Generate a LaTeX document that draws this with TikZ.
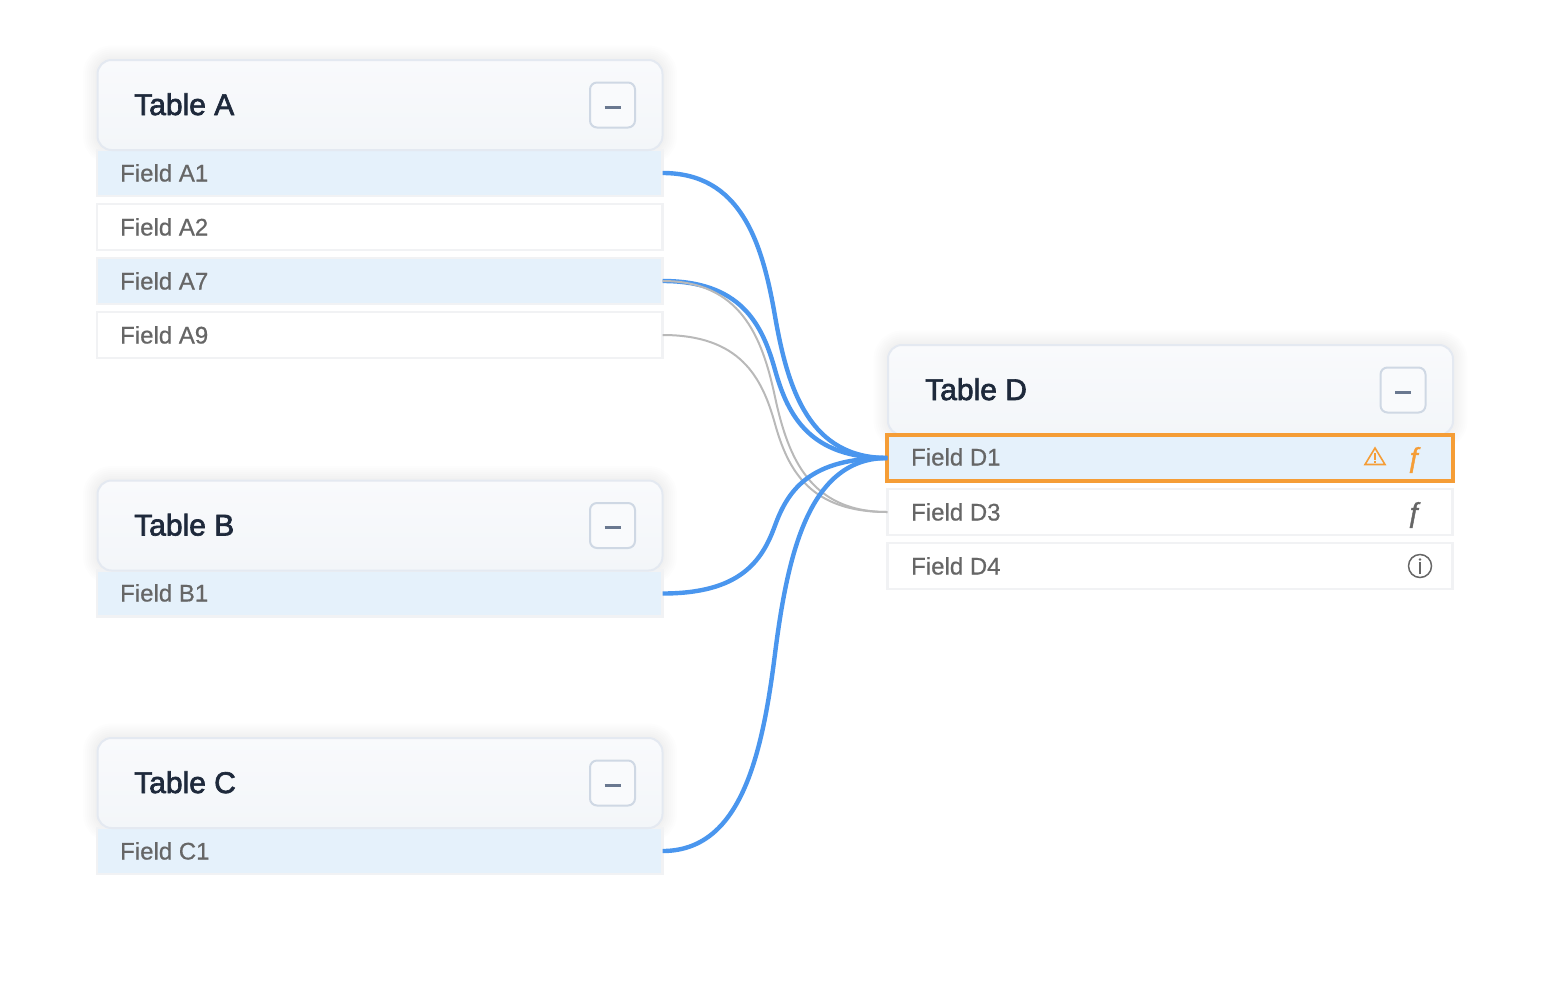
\documentclass[tikz,border=0pt]{standalone}
\usepackage{fontspec}
\setmainfont{Liberation Sans}[FakeBold=0.6]
\newfontfamily\titlefont[FakeBold=2.2]{Liberation Sans}
\newfontfamily\fxfont[FakeBold=1.4]{Liberation Sans}
\usetikzlibrary{calc}
\definecolor{hdrborder}{HTML}{E4E9F1}
\definecolor{hdrtop}{HTML}{F9FAFC}
\definecolor{hdrbot}{HTML}{F3F6F9}
\definecolor{btnborder}{HTML}{CFD8E4}
\definecolor{btnfill}{HTML}{F9FAFC}
\definecolor{minuscol}{HTML}{6A7890}
\definecolor{titlecol}{HTML}{1E293B}
\definecolor{fieldcol}{HTML}{666666}
\definecolor{rowborder}{HTML}{F1F2F4}
\definecolor{rowblue}{HTML}{E5F1FB}
\definecolor{linkblue}{HTML}{4A96EE}
\definecolor{linkgray}{HTML}{B9B9B9}
\definecolor{warnorange}{HTML}{F59D36}
\tikzset{
  rowbase/.style={rectangle,minimum width=565.5pt,minimum height=46pt,inner sep=0pt,outer sep=0pt,line width=2.6pt,draw=rowborder},
  rowplain/.style={rowbase,fill=white},
  rowactive/.style={rowbase,fill=rowblue},
  rowwarn/.style={rowbase,fill=rowblue,draw=warnorange,line width=4pt},
  hdr/.style={rectangle,rounded corners=14pt,minimum width=565pt,minimum height=90pt,inner sep=0pt,outer sep=0pt,line width=2pt,draw=hdrborder,top color=hdrtop,bottom color=hdrbot},
  shadowlayer/.style={rectangle,rounded corners=14pt,minimum width=565pt,minimum height=90pt,inner sep=0pt,draw=black,draw opacity=.008},
  btn/.style={rectangle,rounded corners=7pt,minimum width=45pt,minimum height=45pt,inner sep=0pt,outer sep=0pt,line width=2pt,draw=btnborder,fill=btnfill},
  minusbar/.style={draw=minuscol,line width=3pt},
  titletext/.style={anchor=base west,inner sep=0pt,text=titlecol,font=\titlefont\fontsize{30}{32}\selectfont},
  fieldtext/.style={anchor=base west,inner sep=0pt,text=fieldcol,font=\fontsize{24}{28}\selectfont},
  fxtext/.style={anchor=base,inner sep=0pt,font=\fxfont\fontsize{28}{30}\selectfont},
  bluelink/.style={draw=linkblue,line width=4.4pt},
  graylink/.style={draw=linkgray,line width=2pt},
}
\newcommand{\tableshadow}[2]{%
  \foreach \w in {5,9,13,17,21,25,29}{\node[shadowlayer,line width=\w pt] at (#1,#2) {};}
}
\newcommand{\tablehead}[5]{% name, centre x, centre y, title, title x
  \node[hdr] (#1) at (#2,#3) {};
  \node[titletext] (#1t) at (#5,#3+10) {#4};
  \node[btn] (#1b) at (#2+232.5,#3) {};
  \draw[minusbar] ($(#1b.center)+(-8pt,-2pt)$) -- ($(#1b.center)+(8pt,-2pt)$);
}
\newcommand{\linkrows}[3]{%
  \draw[#1] let \p1=(#2.east),\p2=(#3.west),\n1={\x2-\x1},\n2={\y2-\y1} in
    (\p1) .. controls ({\x1+.344*\n1},{\y1}) and ({\x1+.442*\n1},{\y1+.236*\n2}) ..
    ({\x1+.5*\n1},{\y1+.5*\n2}) .. controls ({\x1+.558*\n1},{\y1+.764*\n2}) and ({\x1+.656*\n1},{\y2}) .. (\p2);
}
\begin{document}
\begin{tikzpicture}[x=1pt,y=-1pt]
\useasboundingbox (0,0) rectangle (1562,1002);
% soft shadows
\tableshadow{380}{105}
\tableshadow{380}{525.5}
\tableshadow{380}{783}
\tableshadow{1170.5}{390}
% rows
\node[rowactive] (fa1) at (379.8,173) {};
\node[rowplain]  (fa2) at (379.8,227) {};
\node[rowactive] (fa7) at (379.8,281) {};
\node[rowplain]  (fa9) at (379.8,335) {};
\node[rowactive] (fb1) at (379.8,593.5) {};
\node[rowactive] (fc1) at (379.8,851) {};
\node[rowplain]  (fd3) at (1170,512) {};
\node[rowplain]  (fd4) at (1170,566) {};
% headers
\tablehead{ta}{380}{105}{Table A}{134}
\tablehead{tb}{380}{525.5}{Table B}{134}
\tablehead{tc}{380}{783}{Table C}{134}
\tablehead{td}{1170.5}{390}{Table D}{925}
\node[rowwarn] (fd1) at (1170,458) {};
% field labels
\node[fieldtext] (la1) at (120,181.5) {Field A1};
\node[fieldtext] (la2) at (120,235.5) {Field A2};
\node[fieldtext] (la7) at (120,289.5) {Field A7};
\node[fieldtext] (la9) at (120,343.5) {Field A9};
\node[fieldtext] (lb1) at (120,601.5) {Field B1};
\node[fieldtext] (lc1) at (120,859.5) {Field C1};
\node[fieldtext] (ld1) at (911,465.5) {Field D1};
\node[fieldtext] (ld3) at (911,520.5) {Field D3};
\node[fieldtext] (ld4) at (911,574.5) {Field D4};
% icons
\node[fxtext,text=warnorange] (fx1) at (1415,467) {ƒ};
\node[fxtext,text=fieldcol] (fx3) at (1415,522) {ƒ};
\draw[warnorange,line width=1.6pt,line join=miter] (1375,448) -- (1385,464.5) -- (1365,464.5) -- cycle;
\draw[warnorange,line width=1.8pt] (1375,453) -- (1375,459.5) (1375,460.8) -- (1375,462.8);
\node[circle,draw=fieldcol,line width=1.5pt,minimum size=23pt,inner sep=0pt] (info) at (1420,566) {};
\draw[fieldcol,line width=1.5pt] ($(info.center)+(0pt,4pt)$) -- ($(info.center)+(0pt,-8pt)$);
\fill[fieldcol] ($(info.center)+(0pt,6.5pt)$) circle (1.3pt);
% connectors
\linkrows{bluelink}{fa1}{fd1}
\linkrows{bluelink}{fa7}{fd1}
\linkrows{graylink}{fa7}{fd3}
\linkrows{graylink}{fa9}{fd3}
\linkrows{bluelink}{fb1}{fd1}
\linkrows{bluelink}{fc1}{fd1}
\end{tikzpicture}
\end{document}
